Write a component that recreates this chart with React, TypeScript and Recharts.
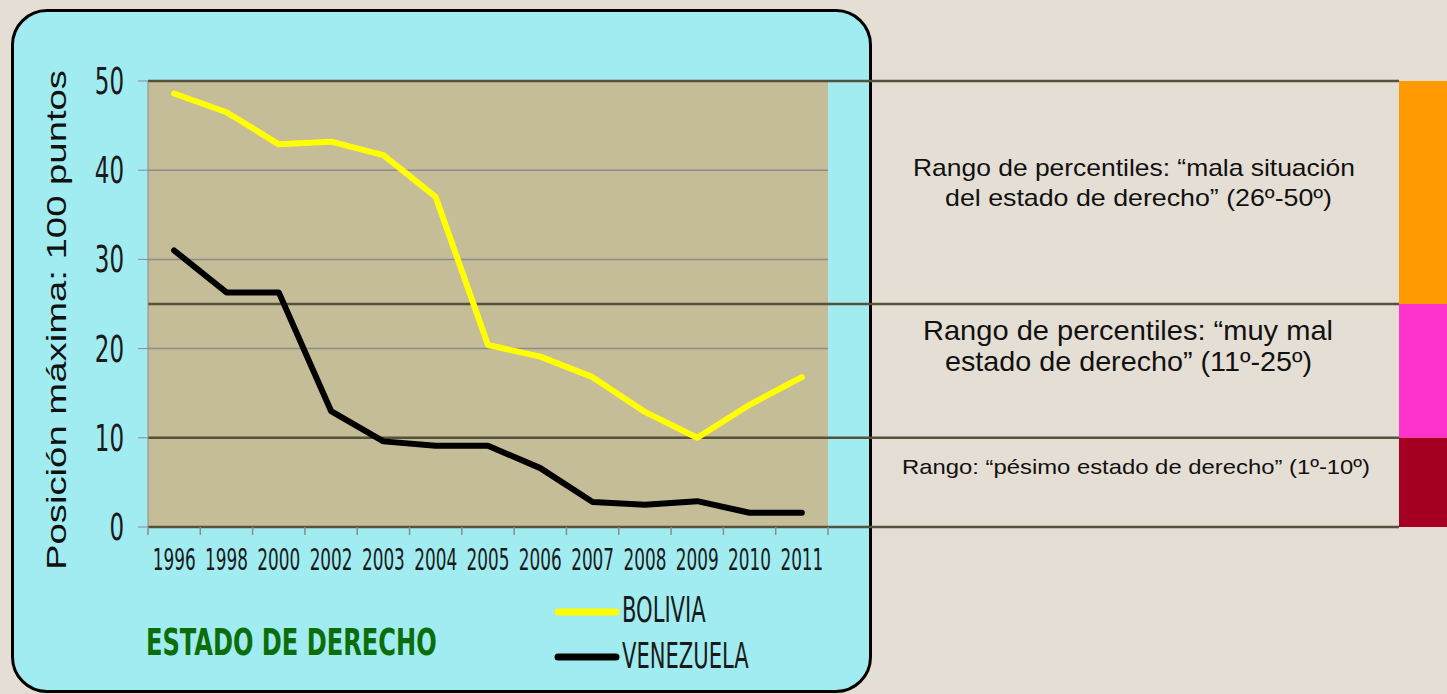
import {
  CartesianGrid,
  Legend,
  Line,
  LineChart,
  ReferenceArea,
  ReferenceLine,
  XAxis,
  YAxis,
} from "recharts";

const years = [
  "1996", "1998", "2000", "2002", "2003", "2004", "2005",
  "2006", "2007", "2008", "2009", "2010", "2011",
];
const bolivia = [48.6, 46.5, 42.9, 43.2, 41.7, 37.0, 20.4, 19.1, 16.8, 12.9, 10.0, 13.7, 16.8];
const venezuela = [31.0, 26.3, 26.3, 13.0, 9.6, 9.1, 9.1, 6.6, 2.8, 2.5, 2.9, 1.6, 1.6];
const yTicks = [0, 10, 20, 30, 40, 50];
const bandEdges = [50, 25, 10, 0];
const bandRanges = [
  [25, 50],
  [10, 25],
  [0, 10],
];
const bandNotes = [
  ["Rango de percentiles: “mala situación", "del estado de derecho” (26º-50º)"],
  ["Rango de percentiles: “muy mal", "estado de derecho” (11º-25º)"],
  ["Rango: “pésimo estado de derecho” (1º-10º)"],
];

const data = years.map((year, i) => ({
  year,
  bolivia: bolivia[i],
  venezuela: venezuela[i],
}));

const W = 1447;
const H = 694;
const PLOT_LEFT = 148;
const PLOT_RIGHT = 828;
const PLOT_BOTTOM = 527;
const STEP = (PLOT_RIGHT - PLOT_LEFT) / years.length;
const BAR_X = 1399;
const NARROW = '"Liberation Sans Narrow", "Arial Narrow", "DejaVu Sans Condensed", sans-serif';
const SANS = '"Liberation Sans", Arial, sans-serif';
const bandColors = ["#FF9900", "#FF33CC", "#A50021"];
const grey = "#8c8c8c";
const olive = "#55513a";

// note placement (x start, baseline, width) per line, font size per block
const noteLayout = [
  { size: 24, lines: [[913, 176, 442], [945, 206, 387]] },
  { size: 28, lines: [[923, 340, 410], [945, 371, 367]] },
  { size: 21, lines: [[902, 474, 468]] },
];

function YTick({ x, y, payload }: any) {
  return (
    <text
      transform={`translate(${x}, ${y + 13}) scale(0.69, 1)`}
      textAnchor="end"
      fontFamily={NARROW}
      fontSize={37}
      fill="#1a1a1a"
    >
      {payload.value}
    </text>
  );
}

function XTick({ x, payload, index }: any) {
  const last = index === years.length - 1;
  return (
    <g>
      <line x1={x - STEP / 2} x2={x - STEP / 2} y1={PLOT_BOTTOM} y2={PLOT_BOTTOM + 8} stroke={grey} strokeWidth={1.5} />
      {last && (
        <line x1={x + STEP / 2} x2={x + STEP / 2} y1={PLOT_BOTTOM} y2={PLOT_BOTTOM + 8} stroke={grey} strokeWidth={1.5} />
      )}
      <text
        transform={`translate(${x}, ${PLOT_BOTTOM + 43}) scale(0.625, 1)`}
        textAnchor="middle"
        fontFamily={NARROW}
        fontSize={30}
        fill="#1a1a1a"
      >
        {payload.value}
      </text>
    </g>
  );
}

const BandLine = (p: any) => (
  <line x1={p.x1} y1={p.y1} x2={BAR_X} y2={p.y2} stroke={olive} strokeWidth={2.5} />
);

const BandBar = (p: any) => (
  <rect x={BAR_X} y={p.y} width={W - BAR_X} height={p.height} fill={p.fill} />
);

function LegendBox({ payload }: any) {
  return (
    <svg width={260} height={110}>
      {(payload || []).map((e: any, i: number) => (
        <g key={e.value}>
          <line x1={7} x2={65} y1={31 + i * 45} y2={31 + i * 45} stroke={e.color} strokeWidth={7} strokeLinecap="round" />
          <text
            transform={`translate(71, ${41 + i * 46}) scale(0.67, 1)`}
            fontFamily={NARROW}
            fontSize={35}
            fill="#1a1a1a"
          >
            {e.value}
          </text>
        </g>
      ))}
    </svg>
  );
}

export default function App() {
  return (
    <div
      style={{
        position: "absolute",
        left: 0,
        top: 0,
        width: W,
        height: H,
        overflow: "hidden",
        background: "#E5DED4",
      }}
    >
      <div
        style={{
          position: "absolute",
          left: 11,
          top: 9,
          width: 861,
          height: 684,
          boxSizing: "border-box",
          border: "3px solid #000",
          borderRadius: 36,
          background: "#A0ECF0",
        }}
      />
      <div style={{ position: "absolute", left: 0, top: 0 }}>
        <LineChart
          width={W}
          height={H}
          data={data}
          margin={{ top: 81, right: W - PLOT_RIGHT, bottom: H - PLOT_BOTTOM - 30, left: PLOT_LEFT - 60 }}
        >
          <CartesianGrid vertical={false} fill="#C4BD97" stroke={grey} strokeWidth={1.5} />
          <XAxis
            dataKey="year"
            scale="point"
            padding={{ left: STEP / 2, right: STEP / 2 }}
            height={30}
            interval={0}
            axisLine={false}
            tickLine={false}
            tick={(p: any) => <XTick {...p} />}
          />
          <YAxis
            width={60}
            domain={[0, 50]}
            ticks={yTicks}
            interval={0}
            stroke={grey}
            tickSize={10}
            tickMargin={14}
            tick={(p: any) => <YTick {...p} />}
          />
          {bandRanges.map(([lo, hi], i) => (
            <ReferenceArea key={`band-${i}`} y1={lo} y2={hi} fill={bandColors[i]} shape={BandBar} />
          ))}
          {bandEdges.map((v) => (
            <ReferenceLine key={`edge-${v}`} y={v} shape={BandLine} />
          ))}
          <Line
            type="linear"
            dataKey="bolivia"
            name="BOLIVIA"
            stroke="#FFFF00"
            strokeWidth={6}
            strokeLinecap="round"
            strokeLinejoin="round"
            dot={false}
            isAnimationActive={false}
          />
          <Line
            type="linear"
            dataKey="venezuela"
            name="VENEZUELA"
            stroke="#000000"
            strokeWidth={6}
            strokeLinecap="round"
            strokeLinejoin="round"
            dot={false}
            isAnimationActive={false}
          />
          <Legend
            layout="vertical"
            align="center"
            verticalAlign="middle"
            wrapperStyle={{ left: 551, top: 581, width: 260, height: 110 }}
            content={(p: any) => <LegendBox {...p} />}
          />
        </LineChart>
      </div>
      <svg
        width={W}
        height={H}
        style={{ position: "absolute", left: 0, top: 0, pointerEvents: "none" }}
      >
        <text
          transform="translate(66, 570) rotate(-90)"
          fontFamily={SANS}
          fontSize={28}
          fill="#111"
          textLength={500}
          lengthAdjust="spacingAndGlyphs"
        >
          Posición máxima: 100 puntos
        </text>
        <text
          transform="translate(146, 655) scale(0.725, 1)"
          fontFamily={NARROW}
          fontWeight="bold"
          fontSize={37}
          fill="#0B6E0B"
        >
          ESTADO DE DERECHO
        </text>
        {bandNotes.map((lines, b) =>
          lines.map((line, j) => {
            const [x, y, len] = noteLayout[b].lines[j];
            return (
              <text
                key={`${b}-${j}`}
                x={x}
                y={y}
                fontFamily={SANS}
                fontSize={noteLayout[b].size}
                fill="#111"
                textLength={len}
                lengthAdjust="spacingAndGlyphs"
              >
                {line}
              </text>
            );
          })
        )}
      </svg>
    </div>
  );
}
